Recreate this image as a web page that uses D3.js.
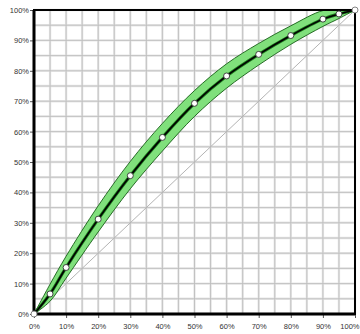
<!DOCTYPE html>
<html>
<head>
<meta charset="utf-8">
<script src="https://cdn.jsdelivr.net/npm/d3@7"></script>
<style>
  html, body { margin: 0; padding: 0; background: #fff; }
  svg { display: block; }
  .tick text { font-family: "Liberation Sans", Arial, sans-serif; font-size: 7.5px; fill: #333; }
</style>
</head>
<body>
<svg id="chart" width="360" height="334"></svg>
<script>
// Cumulative share curve with its confidence band
const xPct   = [0, 5, 10, 20, 30, 40, 50, 60, 70, 80, 90, 95, 100];
const center = [0, 6.6, 15.3, 31.2, 45.5, 58.1, 69.3, 78.3, 85.4, 91.6, 97.0, 98.7, 100];
const lower  = [0, 4.2, 11.8, 27, 41.2, 53.6, 65.0, 74.3, 81.9, 88.7, 94.6, 97.2, 100];
const upper  = [0, 9.8, 19, 35.6, 50.2, 62.7, 73.5, 82.3, 89.0, 94.8, 99.8, 100, 100];
const tickValues = [0, 10, 20, 30, 40, 50, 60, 70, 80, 90, 100];
const gridValues = d3.range(0, 101, 5);

const margin = { left: 34, top: 10, right: 5, bottom: 20 };
const W = 360, H = 334;
const x = d3.scaleLinear().domain([0, 100]).range([margin.left, W - margin.right]);
const y = d3.scaleLinear().domain([0, 100]).range([H - margin.bottom, margin.top]);

const svg = d3.select("#chart");
const fmt = d => d + "%";

// grid: soft halo with a thinner core line
const grid = svg.append("g");
[["#e8e8e8", 2.4], ["#bdbdbd", 0.9]].forEach(([c, w]) => {
  grid.selectAll(null).data(gridValues).enter().append("line")
    .attr("x1", d => x(d)).attr("x2", d => x(d))
    .attr("y1", y(0)).attr("y2", y(100))
    .attr("stroke", c).attr("stroke-width", w);
  grid.selectAll(null).data(gridValues).enter().append("line")
    .attr("y1", d => y(d)).attr("y2", d => y(d))
    .attr("x1", x(0)).attr("x2", x(100))
    .attr("stroke", c).attr("stroke-width", w);
});

// reference diagonal
svg.append("line")
  .attr("x1", x(0)).attr("y1", y(0)).attr("x2", x(100)).attr("y2", y(100))
  .attr("stroke", "#b4b4b4").attr("stroke-width", 1);

// axes
const xAxis = d3.axisBottom(x).tickValues(tickValues).tickFormat(fmt).tickSize(4).tickPadding(6);
const yAxis = d3.axisLeft(y).tickValues(tickValues).tickFormat(fmt).tickSize(4).tickPadding(1);
const gx = svg.append("g").attr("transform", `translate(0,${y(0)})`).call(xAxis);
const gy = svg.append("g").attr("transform", `translate(${x(0)},0)`).call(yAxis);
[gx, gy].forEach(g => {
  g.select(".domain").remove();
  g.selectAll(".tick line").attr("stroke", "#555").attr("stroke-width", 1);
});
// keep the last x label inside the page
gx.selectAll(".tick text").filter(d => d === 100)
  .attr("text-anchor", "end").attr("dx", W - 1 - x(100));

// confidence band
const pts = xPct.map((v, i) => ({ x: v, c: center[i], lo: lower[i], hi: upper[i] }));
const band = d3.area()
  .x(d => x(d.x)).y0(d => y(d.lo)).y1(d => y(d.hi))
  .curve(d3.curveCatmullRom.alpha(0.5));
svg.append("path").datum(pts).attr("d", band)
  .attr("fill", "#80e07c").attr("stroke", "#175c17").attr("stroke-width", 0.9);

// central curve
const line = d3.line().x(d => x(d.x)).y(d => y(d.c)).curve(d3.curveCatmullRom.alpha(0.5));
svg.append("path").datum(pts).attr("d", line)
  .attr("fill", "none").attr("stroke", "#1d7a1d").attr("stroke-width", 3.2);
svg.append("path").datum(pts).attr("d", line)
  .attr("fill", "none").attr("stroke", "#000").attr("stroke-width", 1.6);

// frame
svg.append("rect")
  .attr("x", x(0)).attr("y", y(100))
  .attr("width", x(100) - x(0)).attr("height", y(0) - y(100))
  .attr("fill", "none").attr("stroke", "#000").attr("stroke-width", 2);
svg.append("path")
  .attr("d", `M${x(0)},${y(100)}V${y(0)}H${x(100)}`)
  .attr("fill", "none").attr("stroke", "#000").attr("stroke-width", 3);

// data points
svg.append("g").selectAll("circle").data(pts).enter().append("circle")
  .attr("cx", d => x(d.x)).attr("cy", d => y(d.c)).attr("r", 3)
  .attr("fill", "#fff")
  .attr("stroke", (d, i) => (i === 0 || i === pts.length - 1) ? "#777" : "#333")
  .attr("stroke-width", 0.9);
</script>
</body>
</html>
